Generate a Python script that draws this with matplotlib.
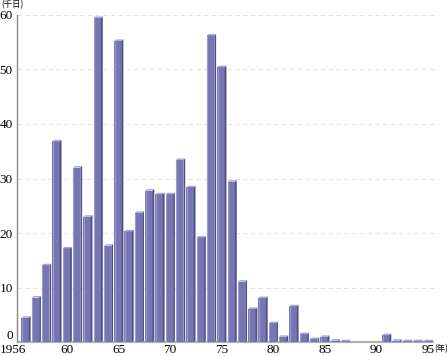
import numpy as np
import matplotlib.pyplot as plt
from matplotlib.patches import Polygon

# 年ごとの値 (千日)
years = np.arange(1956, 1996)
values = [4.5, 8.2, 14.1, 36.8, 17.2, 32.0, 23.0, 59.4, 17.7, 55.2,
          20.3, 23.7, 27.8, 27.1, 27.1, 33.4, 28.4, 19.2, 56.2, 50.4,
          29.4, 11.1, 6.1, 8.1, 3.5, 1.0, 6.6, 1.5, 0.6, 1.0,
          0.3, 0.2, 0.0, 0.0, 0.0, 1.3, 0.3, 0.2, 0.2, 0.2]
xtick_pos = [1956, 1960, 1965, 1970, 1975, 1980, 1985, 1990, 1995]
xtick_lab = ['1956', '60', '65', '70', '75', '80', '85', '90', '95']
yticks = [0, 10, 20, 30, 40, 50, 60]

serif = 'Liberation Serif'
cjk = ['Noto Sans CJK JP', 'DejaVu Sans']

fig = plt.figure(figsize=(4.47, 3.56), dpi=100)
ax = fig.add_axes([17 / 447, 13.7 / 356, 421 / 447, 327.6 / 356])

front = '#7676b2'
top_c = '#a8a8d6'
side_c = '#4e4e88'
hi_c = '#9c9ccc'

w0, w1 = -0.42, 0.30   # front face, relative to year
dx, dy = 0.17, 0.28    # depth of 3d effect
for x, v in zip(years, values):
    if v <= 0:
        continue
    ax.bar(x + (w0 + w1) / 2, v, width=w1 - w0, color=front, lw=0, zorder=3)
    ax.add_patch(Polygon([(x + w1, 0), (x + w1, v), (x + w1 + dx, v + dy),
                          (x + w1 + dx, min(dy, v + dy))],
                         closed=True, fc=side_c, ec='none', zorder=3))
    ax.add_patch(Polygon([(x + w0, v), (x + w1, v), (x + w1 + dx, v + dy),
                          (x + w0 + dx, v + dy)],
                         closed=True, fc=top_c, ec='none', zorder=4))
    ax.plot([x + w0 + 0.04, x + w0 + 0.04], [0, v], color=hi_c, lw=0.8,
            zorder=4, solid_capstyle='butt')

ax.set_xlim(1955.15, 1996.0)
ax.set_ylim(0, 60)

# base line
ax.plot([1955.15, 1995.6], [0, 0], color='#b0b0b0', lw=1.6, zorder=2,
        solid_capstyle='butt', clip_on=False)

for s in ['top', 'right', 'bottom']:
    ax.spines[s].set_visible(False)
ax.spines['left'].set_color('#888888')
ax.spines['left'].set_linewidth(1.0)

ax.set_yticks(yticks)
ax.set_yticklabels([str(t) for t in yticks], fontsize=9.5, family=serif)
ax.yaxis.grid(True, color='#e4e4e4', linestyle=(0, (4, 3)), lw=0.8, zorder=0)
ax.tick_params(axis='y', length=0, pad=3)
ax.get_yticklabels()[0].set_verticalalignment('bottom')
ax.get_yticklabels()[0].set_y(0.0)

ax.set_xticks(xtick_pos)
ax.set_xticklabels(xtick_lab, fontsize=9.5, family=serif)
ax.tick_params(axis='x', length=0, pad=1.2)
lbl = ax.get_xticklabels()
lbl[0].set_horizontalalignment('right')
lbl[0].set_x(1956.3)

fig.text(1 / 447, 1 - 5 / 356, '(千日)', fontsize=6, family=cjk,
         va='center', ha='left')
ax.annotate('(年)', xy=(1995.6, 0), xytext=(0, -1.5),
            textcoords='offset points', fontsize=6, family=cjk,
            va='top', ha='left', annotation_clip=False)

fig.savefig('out.png', dpi=100)
